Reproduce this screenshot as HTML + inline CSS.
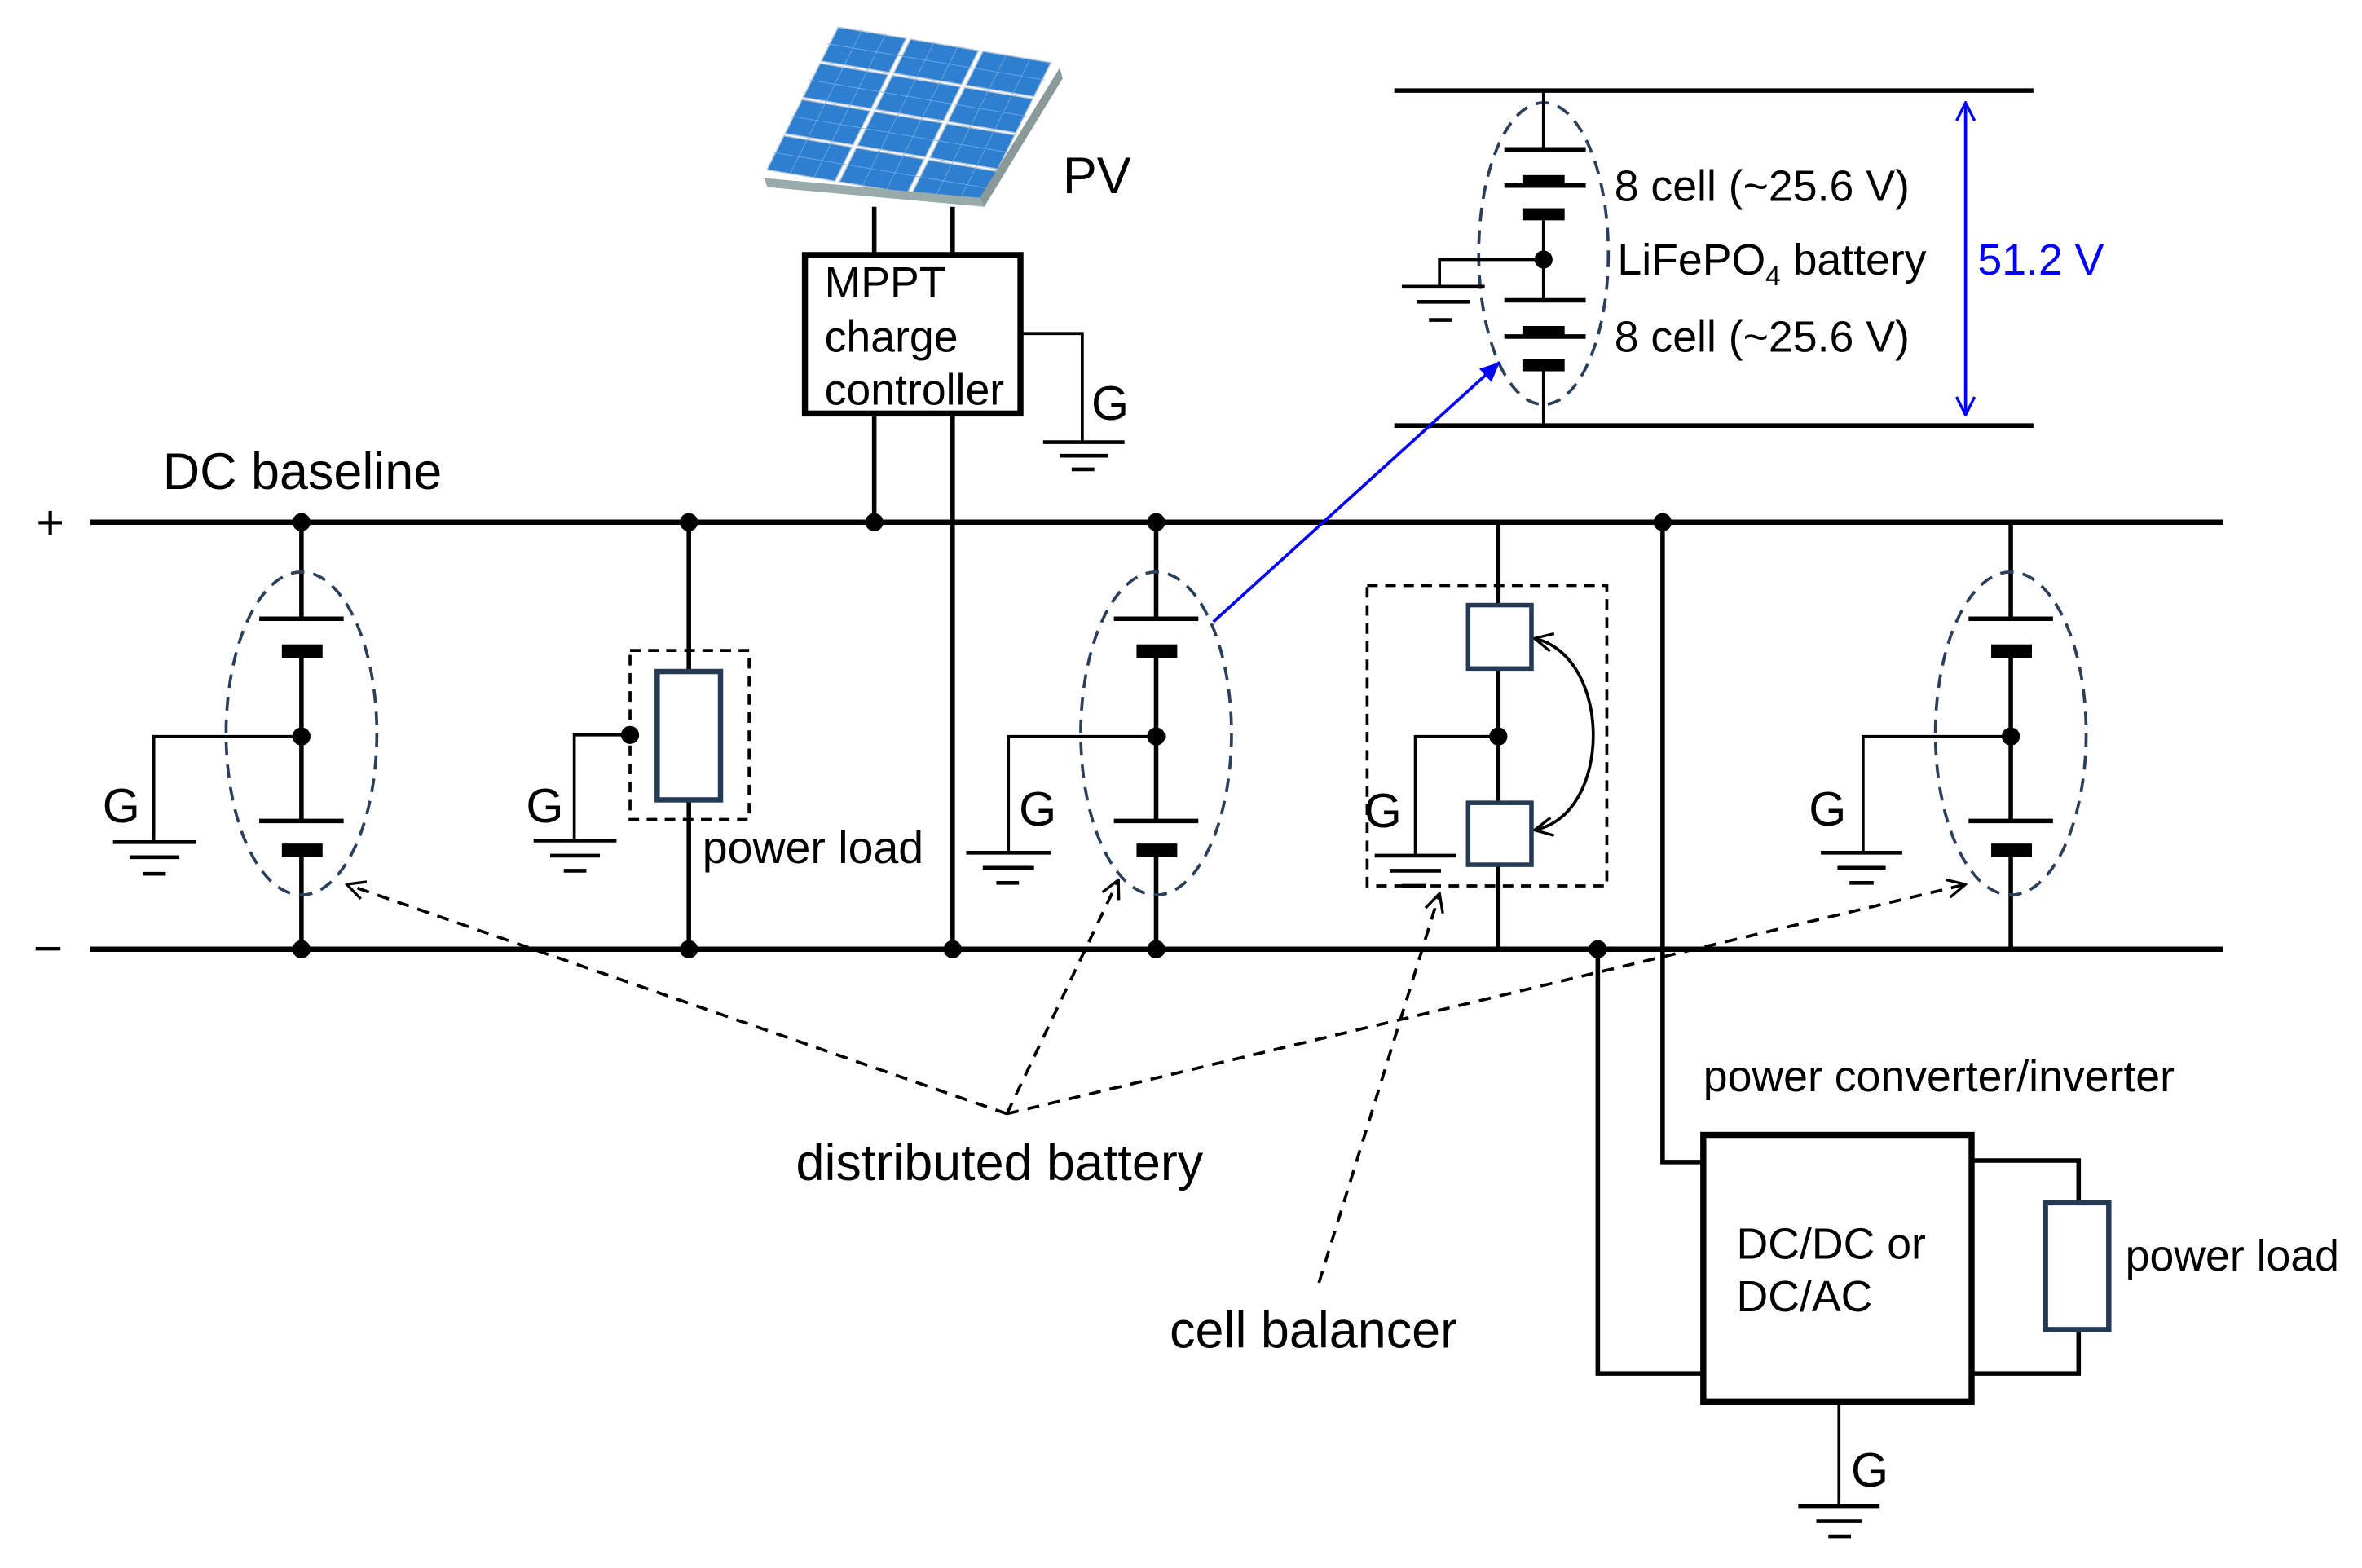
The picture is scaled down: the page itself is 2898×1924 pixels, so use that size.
<!DOCTYPE html>
<html><head><meta charset="utf-8"><style>
html,body{margin:0;padding:0;background:#fff}
svg{display:block}
text{font-family:"Liberation Sans",Arial,sans-serif;fill:#000}
</style></head><body>
<svg width="2898" height="1924" viewBox="0 0 1567 1039" preserveAspectRatio="none" xmlns="http://www.w3.org/2000/svg">
<defs>
<marker id="ba" markerWidth="14" markerHeight="14" refX="13" refY="7" orient="auto" markerUnits="userSpaceOnUse">
<path d="M0,1 L13,7 L0,13 Z" fill="#00f"/></marker>
<marker id="bo" markerWidth="14" markerHeight="14" refX="13" refY="7" orient="auto-start-reverse" markerUnits="userSpaceOnUse">
<path d="M1,1 L13,7 L1,13" fill="none" stroke="#00f" stroke-width="1.8"/></marker>
<marker id="ka" markerWidth="14" markerHeight="14" refX="13" refY="7" orient="auto-start-reverse" markerUnits="userSpaceOnUse">
<path d="M1,1 L13,7 L1,13" fill="none" stroke="#000" stroke-width="1.8"/></marker>
</defs>

<!-- Solar panel -->
<g transform="matrix(48,8,-12,24,555,17)">
<g fill="#2f7fd0" stroke="#b8c8d8" stroke-width="1.5">
<rect x="0.03" y="0.03" width="0.94" height="0.94" vector-effect="non-scaling-stroke"/><rect x="1.03" y="0.03" width="0.94" height="0.94" vector-effect="non-scaling-stroke"/><rect x="2.03" y="0.03" width="0.94" height="0.94" vector-effect="non-scaling-stroke"/>
<rect x="0.03" y="1.03" width="0.94" height="0.94" vector-effect="non-scaling-stroke"/><rect x="1.03" y="1.03" width="0.94" height="0.94" vector-effect="non-scaling-stroke"/><rect x="2.03" y="1.03" width="0.94" height="0.94" vector-effect="non-scaling-stroke"/>
<rect x="0.03" y="2.03" width="0.94" height="0.94" vector-effect="non-scaling-stroke"/><rect x="1.03" y="2.03" width="0.94" height="0.94" vector-effect="non-scaling-stroke"/><rect x="2.03" y="2.03" width="0.94" height="0.94" vector-effect="non-scaling-stroke"/>
<rect x="0.03" y="3.03" width="0.94" height="0.94" vector-effect="non-scaling-stroke"/><rect x="1.03" y="3.03" width="0.94" height="0.94" vector-effect="non-scaling-stroke"/><rect x="2.03" y="3.03" width="0.94" height="0.94" vector-effect="non-scaling-stroke"/>
</g>
<g stroke="#6fb0ee" stroke-width="0.8">
<path d="M0.35,0 V4 M0.68,0 V4 M1.35,0 V4 M1.68,0 V4 M2.35,0 V4 M2.68,0 V4 M0,0.5 H3 M0,1.5 H3 M0,2.5 H3 M0,3.5 H3" vector-effect="non-scaling-stroke"/>
</g>
</g>
<path d="M507,118 L650,131 L653,137 L509,124 Z" fill="#9aa"/>
<path d="M650,131 L703,45 L705,52 L653,137 Z" fill="#8a9a9a"/>
<text x="705" y="128" font-size="34">PV</text>

<!-- MPPT -->
<g stroke="#000" fill="none">
<line x1="580" y1="137" x2="580" y2="169" stroke-width="3"/>
<line x1="632" y1="137" x2="632" y2="169" stroke-width="3"/>
<rect x="534" y="169" width="143" height="105" stroke-width="4"/>
<line x1="580" y1="274" x2="580" y2="346" stroke-width="3"/>
<line x1="632" y1="274" x2="632" y2="629" stroke-width="3"/>
<path d="M677,221 H718 V293" stroke-width="2"/>
<path d="M692,293 H746 M703,302 H735 M711,311 H726" stroke-width="2.5"/>
</g>
<text x="547" y="197" font-size="29">MPPT</text>
<text x="547" y="233" font-size="29">charge</text>
<text x="547" y="268" font-size="29">controller</text>
<text x="724" y="278" font-size="32">G</text>

<!-- buses -->
<g stroke="#000" stroke-width="3.5">
<line x1="60" y1="346" x2="1475" y2="346"/>
<line x1="60" y1="629" x2="1475" y2="629"/>
</g>
<text x="24" y="357" font-size="32">+</text>
<text x="22" y="640" font-size="34">−</text>
<text x="108" y="324" font-size="34">DC baseline</text>

<g stroke="#000" fill="none">
<path d="M200,346 V410 M200,432 V544 M200,563 V629" stroke-width="3"/>
<path d="M172,410 H228 M172,544 H228" stroke-width="3"/>
<path d="M200,488 H102 V558" stroke-width="2"/>
<path d="M75,558 H130 M86,568 H119 M95,579 H110" stroke-width="2.5"/>
<path d="M767,346 V410 M767,432 V544 M767,563 V629" stroke-width="3"/>
<path d="M739,410 H795 M739,544 H795" stroke-width="3"/>
<path d="M767,488 H669 V565" stroke-width="2"/>
<path d="M641,565 H697 M652,575 H686 M661,585 H676" stroke-width="2.5"/>
<path d="M1334,346 V410 M1334,432 V544 M1334,563 V629" stroke-width="3"/>
<path d="M1306,410 H1362 M1306,544 H1362" stroke-width="3"/>
<path d="M1334,488 H1236 V565" stroke-width="2"/>
<path d="M1208,565 H1262 M1219,575 H1251 M1227,585 H1243" stroke-width="2.5"/>
</g>
<g fill="#000">
<rect x="187" y="427" width="27" height="9"/><rect x="187" y="559" width="27" height="9"/>
<rect x="754" y="427" width="27" height="9"/><rect x="754" y="559" width="27" height="9"/>
<rect x="1321" y="427" width="27" height="9"/><rect x="1321" y="559" width="27" height="9"/>
<circle cx="200" cy="346" r="6"/><circle cx="200" cy="629" r="6"/><circle cx="200" cy="488" r="6"/>
<circle cx="767" cy="346" r="6"/><circle cx="767" cy="629" r="6"/><circle cx="767" cy="488" r="6"/>
<circle cx="1334" cy="488" r="6"/>
<circle cx="457" cy="346" r="6"/><circle cx="457" cy="629" r="6"/><circle cx="418" cy="487" r="6"/>
<circle cx="580" cy="346" r="6"/><circle cx="632" cy="629" r="6"/>
<circle cx="994" cy="488" r="6"/>
<circle cx="1103" cy="346" r="6"/><circle cx="1060" cy="629" r="6"/>
<circle cx="1024" cy="172" r="6"/>
</g>
<g fill="none" stroke="#2a3f5a" stroke-width="2" stroke-dasharray="9,6">
<ellipse cx="200" cy="486" rx="50" ry="107"/>
<ellipse cx="767" cy="486" rx="50" ry="107"/>
<ellipse cx="1334" cy="486" rx="50" ry="107"/>
<ellipse cx="1024" cy="168" rx="43" ry="100"/>
</g>
<text x="68" y="545" font-size="32">G</text>
<text x="676" y="547" font-size="32">G</text>
<text x="1200" y="547" font-size="32">G</text>

<!-- power load 1 -->
<g stroke="#000" fill="none">
<path d="M457,346 V445 M457,530 V629" stroke-width="3"/>
<rect x="418" y="431" width="79" height="112" stroke-width="2" stroke-dasharray="7,5"/>
<path d="M418,487 H381 V557" stroke-width="2"/>
<path d="M354,557 H409 M365,567 H398 M374,577 H389" stroke-width="2.5"/>
</g>
<rect x="436" y="445" width="42" height="85" fill="#fff" stroke="#243a55" stroke-width="3.5"/>
<text x="349" y="545" font-size="32">G</text>
<text x="466" y="572" font-size="30">power load</text>

<!-- cell balancer -->
<g stroke="#000" fill="none">
<path d="M994,346 V401 M994,443 V532 M994,573 V629" stroke-width="3"/>
<rect x="907" y="388" width="159" height="199" stroke-width="2" stroke-dasharray="7,5"/>
<path d="M994,488 H939 V567" stroke-width="2"/>
<path d="M912,567 H966 M922,577 H956 M930,587 H946" stroke-width="2.5"/>
<path d="M1018,423 C1070,435 1070,540 1018,550" stroke-width="2" marker-start="url(#ka)" marker-end="url(#ka)"/>
</g>
<rect x="974" y="401" width="42" height="42" fill="#fff" stroke="#243a55" stroke-width="3"/>
<rect x="974" y="532" width="42" height="41" fill="#fff" stroke="#243a55" stroke-width="3"/>
<text x="905" y="548" font-size="32">G</text>

<!-- converter -->
<g stroke="#000" fill="none">
<path d="M1103,346 V770 H1130" stroke-width="3"/>
<path d="M1060,629 V910 H1130" stroke-width="3"/>
<rect x="1130" y="752" width="178" height="177" stroke-width="4"/>
<path d="M1308,769 H1379 V797 M1379,881 V910 H1308" stroke-width="3"/>
<path d="M1220,929 V998" stroke-width="2"/>
<path d="M1193,998 H1247 M1205,1008 H1235 M1213,1018 H1228" stroke-width="2.5"/>
</g>
<rect x="1357" y="797" width="42" height="84" fill="#fff" stroke="#243a55" stroke-width="3.5"/>
<text x="1130" y="723" font-size="29">power converter/inverter</text>
<text x="1152" y="834" font-size="29">DC/DC or</text>
<text x="1152" y="869" font-size="29">DC/AC</text>
<text x="1410" y="842" font-size="29">power load</text>
<text x="1228" y="985" font-size="32">G</text>

<!-- inset -->
<g stroke="#000" fill="none">
<path d="M925,60 H1349 M925,282 H1349" stroke-width="3"/>
<path d="M1024,60 V99 M1024,146 V199 M1024,246 V282" stroke-width="2"/>
<path d="M998,99 H1052 M998,123 H1052 M998,199 H1052 M998,223 H1052" stroke-width="3"/>
<path d="M1024,172 H955 V190" stroke-width="2"/>
<path d="M930,190 H985 M940,200 H975 M948,212 H963" stroke-width="2.5"/>
</g>
<g fill="#000">
<rect x="1010" y="116" width="28" height="8"/><rect x="1010" y="138" width="28" height="8"/>
<rect x="1010" y="216" width="28" height="8"/><rect x="1010" y="238" width="28" height="8"/>
</g>
<text x="1071" y="133" font-size="29">8 cell (~25.6 V)</text>
<text x="1073" y="182" font-size="29">LiFePO<tspan font-size="18" dy="7">4</tspan><tspan dy="-7"> battery</tspan></text>
<text x="1071" y="233" font-size="29">8 cell (~25.6 V)</text>
<line x1="1304" y1="68" x2="1304" y2="275" stroke="#00f" stroke-width="2" marker-start="url(#bo)" marker-end="url(#bo)"/>
<text x="1312" y="182" font-size="29" style="fill:#0000ff">51.2 V</text>
<line x1="805" y1="412" x2="995" y2="240" stroke="#00f" stroke-width="2" marker-end="url(#ba)"/>

<!-- dashed callouts -->
<g stroke="#000" stroke-width="2" stroke-dasharray="8,6" fill="none">
<line x1="668" y1="738" x2="230" y2="586" marker-end="url(#ka)"/>
<line x1="668" y1="738" x2="742" y2="583" marker-end="url(#ka)"/>
<line x1="668" y1="738" x2="1304" y2="586" marker-end="url(#ka)"/>
<line x1="875" y1="850" x2="955" y2="592" marker-end="url(#ka)"/>
</g>
<text x="528" y="782" font-size="34">distributed battery</text>
<text x="776" y="893" font-size="34">cell balancer</text>
</svg>
</body></html>
